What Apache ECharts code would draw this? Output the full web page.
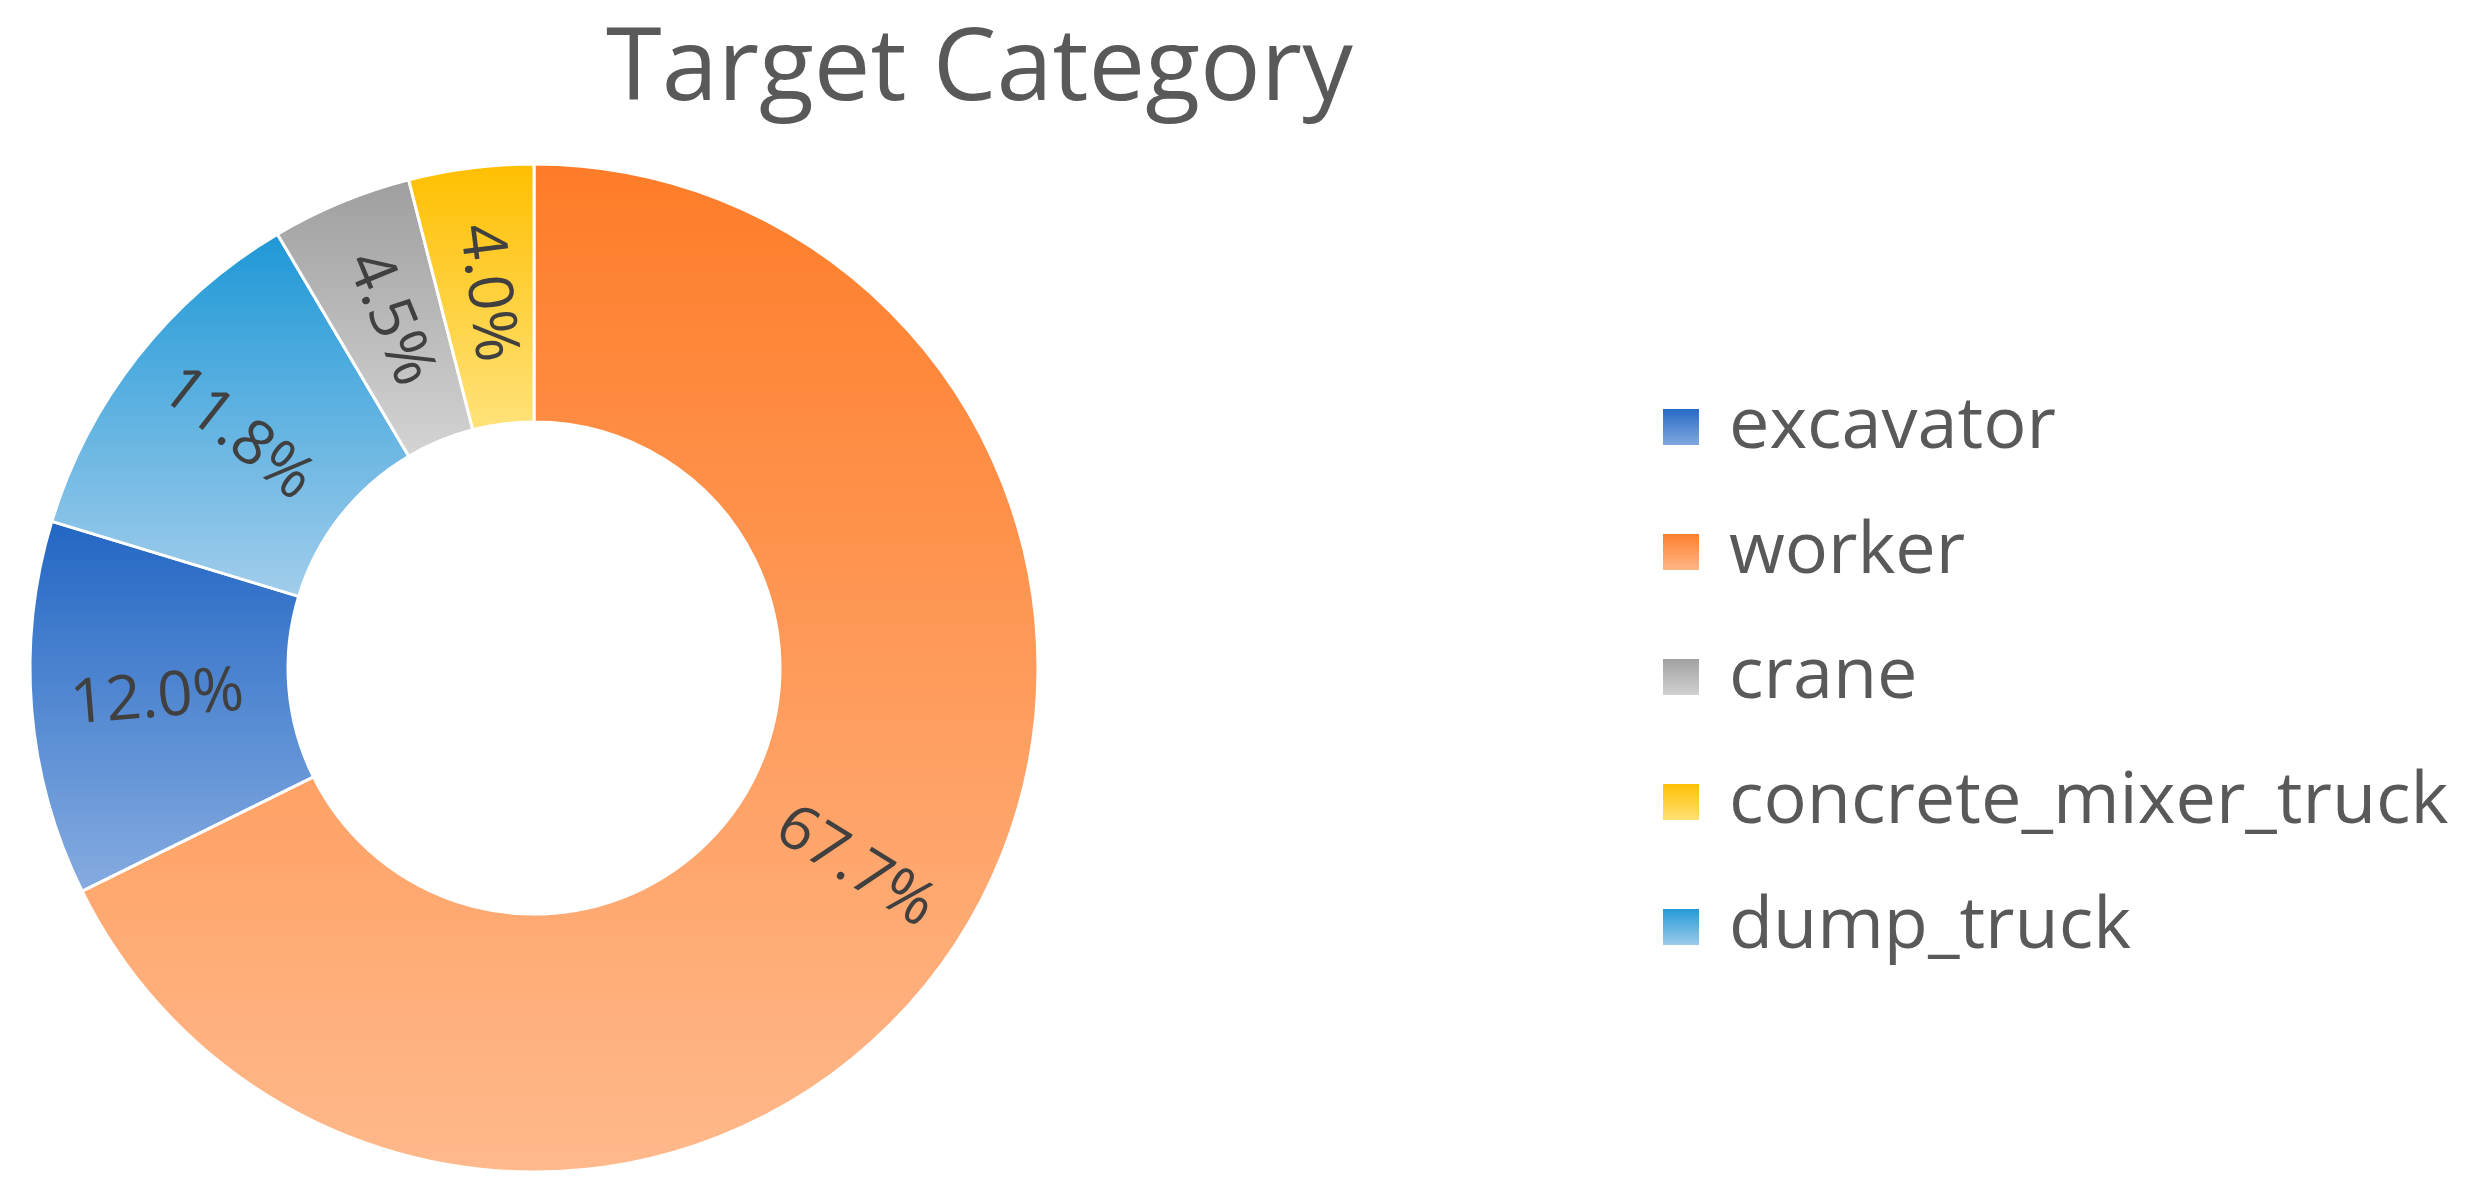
<!DOCTYPE html>
<html>
<head>
<meta charset="utf-8">
<script src="https://cdn.jsdelivr.net/npm/echarts@6/dist/echarts.min.js"></script>
<style>
html,body{margin:0;padding:0;background:#fff;}
#main{width:2484px;height:1190px;}
</style>
</head>
<body>
<div id="main"></div>
<script>
// slice order = drawing order, clockwise from 12 o'clock
const categories = ['worker', 'excavator', 'dump_truck', 'crane', 'concrete_mixer_truck'];
const shares = [67.7, 12.0, 11.8, 4.5, 4.0];
// legend order as in the picture
const legendOrder = ['excavator', 'worker', 'crane', 'concrete_mixer_truck', 'dump_truck'];

const gradients = {
    worker: ['#FE7C28', '#FFB98C'],
    excavator: ['#2266C4', '#86ACE0'],
    dump_truck: ['#1E98D6', '#A2CDEC'],
    crane: ['#9E9E9E', '#D4D4D4'],
    concrete_mixer_truck: ['#FFBF00', '#FFE27A']
};

window.addEventListener('load', function () {
    let chart = echarts.init(document.getElementById('main'));

    let arr = [];
    for (let i = 0; i < categories.length; i++) {
        let name = categories[i];
        let g = gradients[name];
        arr.push({
            name,
            value: shares[i],
            itemStyle: {
                color: new echarts.graphic.LinearGradient(0, 0, 0, 1, [
                    {offset: 0, color: g[0]},
                    {offset: 1, color: g[1]}
                ])
            }
        });
    }

    let option = {
        backgroundColor: '#ffffff',
        animation: false,
        title: {
            text: 'Target Category',
            left: 601,
            top: 16,
            textStyle: {
                fontFamily: 'Open Sans',
                fontWeight: 'normal',
                fontSize: 101,
                color: '#595959'
            }
        },
        legend: {
            data: legendOrder,
            orient: 'vertical',
            left: 1656,
            top: 386,
            icon: 'rect',
            itemWidth: 38,
            itemHeight: 38,
            itemGap: 53,
            textStyle: {
                fontFamily: 'Open Sans',
                fontSize: 72,
                color: '#595959',
                padding: [0, 0, 0, 24]
            }
        },
        series: [
            {
                name: 'Target Category',
                type: 'pie',
                center: [534, 668],
                radius: [246, 504],
                startAngle: 90,
                clockwise: true,
                itemStyle: {
                    borderColor: '#ffffff',
                    borderWidth: 3
                },
                label: {
                    show: true,
                    position: 'inside',
                    rotate: 'radial',
                    formatter: p => p.value.toFixed(1) + '%',
                    fontFamily: 'Open Sans',
                    fontSize: 62,
                    color: '#404040'
                },
                labelLine: {show: false},
                data: arr
            }
        ]
    };

    chart.setOption(option);
});
</script>
</body>
</html>
